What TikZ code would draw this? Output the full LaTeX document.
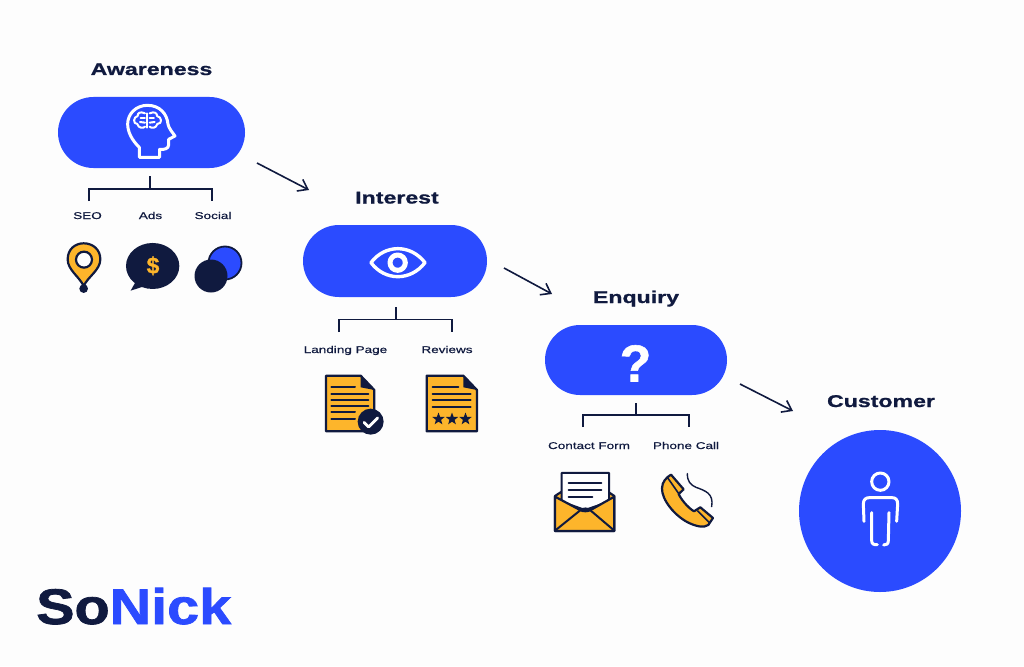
\documentclass[tikz,border=0pt]{standalone}
\usepackage{fontspec}
\setmainfont{Liberation Sans}
\newfontfamily\titlefont[FakeStretch=1.36,FakeBold=0.9]{Liberation Sans Bold}
\newfontfamily\labelfont[FakeStretch=1.38,FakeBold=0.5]{Liberation Sans}
\newfontfamily\logofont[FakeStretch=1.15,FakeBold=1.5]{Liberation Sans Bold}
\newfontfamily\symbolfont[FakeBold=1]{Liberation Sans Bold}
\usetikzlibrary{shapes.misc,shapes.geometric,arrows.meta}
\definecolor{bluec}{HTML}{2B4BFF}
\definecolor{darkc}{HTML}{101A3F}
\definecolor{yellowc}{HTML}{FDB52B}
\definecolor{bgc}{HTML}{FDFDFD}
\tikzset{
  pill/.style={rounded rectangle,fill=bluec,draw=none,inner sep=0pt},
  titletext/.style={anchor=base,inner sep=0pt,text=darkc,font=\titlefont\fontsize{17}{18}\selectfont},
  smalltext/.style={anchor=base,inner sep=0pt,text=darkc,font=\labelfont\fontsize{9.8}{11}\selectfont},
  flow/.style={draw=darkc,line width=1.6pt,-{Straight Barb[length=9pt,width=13pt,line width=1.6pt]}},
  branch/.style={draw=darkc,line width=1.6pt},
  iconline/.style={draw=white,line width=3pt,line join=round,line cap=round},
  iconthin/.style={draw=white,line width=2pt,line join=round,line cap=round},
  darkline/.style={draw=darkc,line width=2pt,line cap=round},
  docfill/.style={fill=yellowc,draw=darkc,line width=2.2pt,line join=round},
}
\begin{document}
\begin{tikzpicture}[x=1pt,y=-1pt]
\useasboundingbox (0,0) rectangle (1024,666);
\fill[bgc] (0,0) rectangle (1024,666);

% main shapes
\node[pill,minimum width=187pt,minimum height=71pt] (aware) at (151.5,132.5) {};
\node[pill,minimum width=184pt,minimum height=72pt] (inter) at (395,261) {};
\node[pill,minimum width=182pt,minimum height=70pt] (enq) at (636,360) {};
\node[circle,fill=bluec,inner sep=0pt,minimum size=162pt] (cust) at (880,511) {};

% titles
\node[titletext] (t1) at (151.5,75) {Awareness};
\node[titletext] (t2) at (397,203.5) {Interest};
\node[titletext] (t3) at (636,303) {Enquiry};
\node[titletext] (t4) at (881,407) {Customer};

% labels
\node[smalltext] (l1) at (87.5,219) {SEO};
\node[smalltext] (l2) at (150.5,219) {Ads};
\node[smalltext] (l3) at (213,219) {Social};
\node[smalltext] (l4) at (345.5,353) {Landing Page};
\node[smalltext] (l5) at (447,353) {Reviews};
\node[smalltext] (l6) at (589,449) {Contact Form};
\node[smalltext] (l7) at (686,449) {Phone Call};

% flow arrows
\coordinate (a1s) at (257,163); \coordinate (a1e) at (309,190);
\coordinate (a2s) at (504,268); \coordinate (a2e) at (552,294);
\coordinate (a3s) at (740,384); \coordinate (a3e) at (793,411);
\draw[flow] (a1s) -- (a1e);
\draw[flow] (a2s) -- (a2e);
\draw[flow] (a3s) -- (a3e);

% branches
\coordinate (b1) at (150,176); \coordinate (b1m) at (150,189);
\coordinate (b1l) at (89,201); \coordinate (b1r) at (212,201);
\draw[branch] (b1) -- (b1m);
\draw[branch] (b1l) |- (b1m) -| (b1r);
\coordinate (b2) at (396,307); \coordinate (b2m) at (396,319.5);
\coordinate (b2l) at (339,332); \coordinate (b2r) at (452,332);
\draw[branch] (b2) -- (b2m);
\draw[branch] (b2l) |- (b2m) -| (b2r);
\coordinate (b3) at (636,403); \coordinate (b3m) at (636,415);
\coordinate (b3l) at (583,427); \coordinate (b3r) at (689,427);
\draw[branch] (b3) -- (b3m);
\draw[branch] (b3l) |- (b3m) -| (b3r);

% head icon + brain
\begin{scope}[shift={(40,50)},x=0.3333pt,y=-0.3333pt]
\draw[iconline] (298,322) -- (298,292) .. controls (275,270) and (263,245) .. (263,222)
  .. controls (263,190) and (290,166) .. (322,166)
  .. controls (360,166) and (381,192) .. (384,222)
  .. controls (386,235) and (398,248) .. (405,258)
  -- (386,268) -- (386,285) .. controls (386,296) and (372,300) .. (359,298) -- (359,322) -- cycle;
\draw[iconthin] (322,190) -- (322,233);
\draw[iconthin] (315,190) .. controls (300,183) and (292,190) .. (293,198)
  .. controls (280,200) and (278,222) .. (292,222)
  .. controls (295,235) and (310,236) .. (315,230);
\draw[iconthin] (315,204) -- (302,204);
\draw[iconthin] (315,218) -- (300,216);
\draw[iconthin] (329,190) .. controls (344,183) and (352,190) .. (351,198)
  .. controls (366,200) and (368,222) .. (352,222)
  .. controls (349,235) and (334,236) .. (329,230);
\draw[iconthin] (329,204) -- (342,204);
\draw[iconthin] (329,218) -- (344,216);
\end{scope}

% eye icon
\begin{scope}[shift={(290,180)},x=0.3333pt,y=-0.3333pt]
\draw[iconline,line width=3.4pt] (243,248) .. controls (285,192) and (362,192) .. (405,248)
  .. controls (362,304) and (285,304) .. (243,248) -- cycle;
\draw[iconline,line width=5pt] (323,248) circle (23);
\end{scope}

% question mark
\node[inner sep=0pt,text=white,font=\symbolfont\fontsize{52}{52}\selectfont,anchor=base] (qm) at (635.5,381.5) {?};

% person icon
\begin{scope}[shift={(790,380)},x=0.3333pt,y=-0.3333pt]
\draw[iconline] (271,305) circle (26);
\draw[iconline] (222,424) -- (220,372) .. controls (220,358) and (228,353) .. (238,353)
  -- (306,353) .. controls (316,353) and (323,358) .. (323,372) -- (320,424);
\draw[iconline] (245,398) -- (245,482) .. controls (245,492) and (252,495) .. (262,494);
\draw[iconline] (297,398) -- (295,482) .. controls (295,492) and (290,495) .. (281,495);
\end{scope}

% pin icon
\begin{scope}[shift={(40,50)},x=0.3333pt,y=-0.3333pt]
\fill[darkc] (131,716) circle (13);
\draw[docfill] (131,708) .. controls (118,680) and (83,660) .. (83,628)
  .. controls (83,598) and (105,580) .. (131,580)
  .. controls (158,580) and (181,598) .. (181,628)
  .. controls (181,660) and (144,680) .. (131,708) -- cycle;
\draw[fill=white,draw=darkc,line width=2.2pt] (132,629) circle (24);
\end{scope}

% speech bubble
\begin{scope}[shift={(40,50)},x=0.3333pt,y=-0.3333pt]
\fill[darkc] (338,648) ellipse (80 and 69);
\fill[darkc] (290,690) -- (272,722) -- (325,705) -- cycle;
\end{scope}
\node[inner sep=0pt,text=yellowc,font=\symbolfont\fontsize{23}{23}\selectfont,anchor=base] (dollar) at (153,273.5) {\$};

% social circles
\node[circle,draw=darkc,fill=bluec,line width=1.8pt,inner sep=0pt,minimum size=33pt] (sc1) at (225,263) {};
\node[circle,fill=darkc,inner sep=0pt,minimum size=33pt] (sc2) at (211,276) {};

% documents
\begin{scope}[shift={(290,180)},x=0.3333pt,y=-0.3333pt]
\draw[docfill] (108,587) -- (212,587) -- (253,630) -- (253,754) -- (108,754) -- cycle;
\fill[darkc] (212,587) -- (253,630) -- (212,622) -- cycle;
\draw[darkline] (124,622) -- (195,622);
\draw[darkline] (124,642) -- (235,642);
\draw[darkline] (124,660) -- (235,660);
\draw[darkline] (124,679) -- (235,679);
\draw[darkline] (124,697) -- (195,697);
\draw[darkline] (124,716) -- (195,716);
\fill[darkc] (242,725) circle (39);
\draw[draw=white,line width=2.8pt,line cap=round,line join=round] (222,727) -- (236,741) -- (263,714);

\draw[docfill] (410,587) -- (520,587) -- (561,630) -- (561,754) -- (410,754) -- cycle;
\fill[darkc] (520,587) -- (561,630) -- (520,622) -- cycle;
\draw[darkline] (428,622) -- (505,622);
\draw[darkline] (428,642) -- (542,642);
\draw[darkline] (428,661) -- (542,661);
\draw[darkline] (428,680) -- (542,680);
\end{scope}
\foreach \n/\sx in {s1/438.5,s2/452,s3/465.5}{
  \node[star,star points=5,star point ratio=2.4,fill=darkc,inner sep=0pt,minimum size=13pt] (\n) at (\sx,419) {};
}

% envelope
\begin{scope}[shift={(530,280)},x=0.3333pt,y=-0.3333pt]
\draw[docfill] (75,648) -- (165,590) -- (253,648) -- (253,753) -- (75,753) -- cycle;
\draw[fill=white,draw=darkc,line width=2pt,line join=round] (95,665) -- (95,579) -- (237,579) -- (237,665) -- (165,690) -- cycle;
\draw[darkline] (116,609) -- (214,609);
\draw[darkline] (116,630) -- (214,630);
\draw[darkline] (116,650) -- (187,650);
\draw[docfill] (75,650) -- (150,690) .. controls (160,695) and (172,695) .. (182,690) -- (253,650) -- (253,753) -- (75,753) -- cycle;
\draw[darkline] (75,752) -- (152,690) .. controls (160,684) and (172,684) .. (180,690) -- (253,752);
\end{scope}

% phone
\begin{scope}[shift={(530,280)},x=0.3333pt,y=-0.3333pt]
\draw[docfill] (423,584) -- (461,628) -- (446,642)
  .. controls (452,656) and (472,682) .. (492,694)
  -- (511,682) -- (549,714) -- (535,735)
  .. controls (522,744) and (500,740) .. (475,728)
  .. controls (435,708) and (395,660) .. (396,625)
  .. controls (396,605) and (410,592) .. (423,584) -- cycle;
\draw[darkc,line width=1.6pt] (412,592) -- (447,642);
\draw[darkc,line width=1.6pt] (502,692) -- (538,728);
\draw[darkline,line width=1.4pt] (472,581) .. controls (472,605) and (482,615) .. (498,622)
  .. controls (525,632) and (552,640) .. (545,680);
\end{scope}

% logo
\node[anchor=base west,inner sep=0pt,font=\logofont\fontsize{50}{50}\selectfont] (logo) at (36,624) {\textcolor{darkc}{So}\textcolor{bluec}{Nick}};
\end{tikzpicture}
\end{document}
